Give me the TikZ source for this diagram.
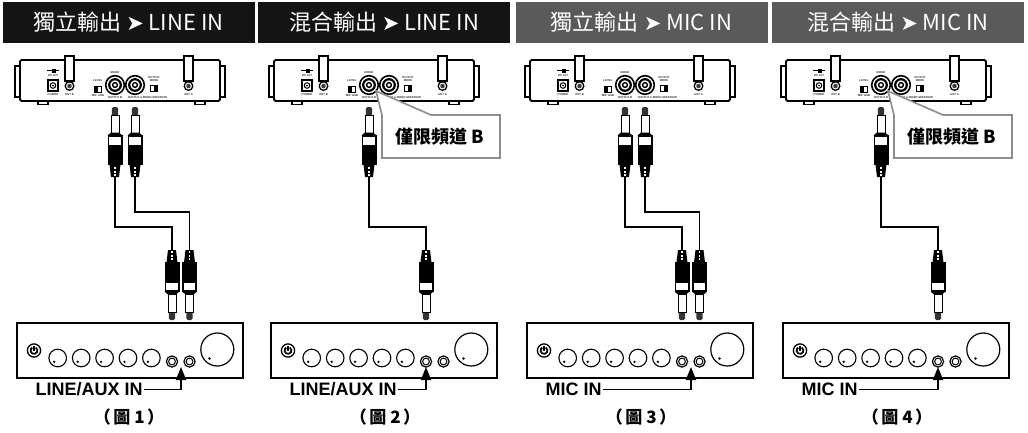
\documentclass[tikz,border=0pt]{standalone}
\usepackage{fontspec}
\setmainfont{Liberation Sans}
\newfontfamily\cjk{Noto Sans CJK TC}
\newfontfamily\dv{DejaVu Sans}
\usetikzlibrary{arrows.meta,calc}
\definecolor{hdark}{HTML}{141414}
\definecolor{hgray}{HTML}{5A5A5A}
\definecolor{callgray}{HTML}{8E8E8E}
\definecolor{tipc}{HTML}{333333}
\newcommand{\hdarrow}{{\dv\fontsize{21}{21}\selectfont ➤}}
\newcommand{\figlabel}[1]{（\hspace{2.5pt}圖\hspace{4pt}#1\hspace{2.5pt}）}
\tikzset{
  hdr/.style={inner sep=0pt, minimum width=252pt, minimum height=41pt, text=white,
    font=\cjk\fontsize{22}{24}\selectfont},
  lbl/.style={font=\bfseries\fontsize{18}{20}\selectfont, inner sep=1.5pt, anchor=west},
  figcap/.style={font=\cjk\bfseries\fontsize{17}{19}\selectfont, inner sep=0pt},
  cable/.style={line width=1.8pt},
  calltext/.style={font=\cjk\bfseries\fontsize{18}{20}\selectfont, inner sep=0pt},
  tinytxt/.style={font=\bfseries\fontsize{2.8}{3}\selectfont, inner sep=0pt, text=black!80},
  pointer/.style={line width=1.8pt, -{Triangle[length=13pt,width=10pt]}},
  calloutbox/.style={draw=callgray, line width=1.6pt, fill=white, line join=miter},
  plug/.pic={
    \fill[tipc, rounded corners=1.5pt] (-3.2,0) rectangle (3.2,9);
    \draw[fill=white, line width=0.9pt] (-4,8) rectangle (4,26);
    \fill (-4,25.5) -- (4,25.5) -- (7.5,28.5) -- (-7.5,28.5) -- cycle;
    \fill (-7.5,28) rectangle (7.5,58);
    \fill[white] (-5.8,29.8) rectangle (5.8,37.5);
    \fill (-5.5,57.5) -- (5.5,57.5) -- (4,70) -- (-4,70) -- cycle;
    \fill[white] (-0.9,60) rectangle (0.9,62);
    \fill[white] (-0.9,63.5) rectangle (0.9,65.5);
    \fill[white] (-0.9,67) rectangle (0.9,69);
  },
  receiver/.pic={
    \draw[line width=1.3pt, fill=white] (-100,66) rectangle (-95,97);
    \draw[line width=1.3pt, fill=white] (105,66) rectangle (110,97);
    \draw[line width=1.1pt, fill=white] (-77,100) rectangle (-67,104.5);
    \draw[line width=1.1pt, fill=white] (80,100) rectangle (90,104.5);
    \draw[line width=1.8pt, fill=white, rounded corners=1.5pt] (-95,60) rectangle (105,101);
    \draw[line width=1.2pt, fill=white] (-50,56) rectangle (-41,81);
    \draw[line width=1.2pt, fill=white] (69,56) rectangle (78,81);
    \draw[line width=1.3pt, fill=white] (-45.5,86) circle (4.3);
    \fill[black!75] (-45.5,86) circle (2.3);
    \draw[line width=1.3pt, fill=white] (73.5,86) circle (4.3);
    \fill[black!75] (73.5,86) circle (2.3);
    \draw[line width=0.8pt] (-68,70.5) -- (-56,70.5);
    \fill (-63.5,68.5) rectangle (-59.5,72.5);
    \node[tinytxt] (-dc) at (-62,75.5) {DC 12V};
    \draw[line width=1.3pt] (-67,80) rectangle (-57,91);
    \draw[line width=1pt] (-62,85.5) circle (2.8);
    \fill (-62,85.5) circle (1);
    \node[tinytxt] (-pw) at (-62,95) {POWER};
    \node[tinytxt] (-antb) at (-45.5,95) {ANT B};
    \node[tinytxt] (-anta) at (73.5,95) {ANT A};
    \node[tinytxt] (-lev) at (-17,80.5) {LEVEL};
    \draw[line width=0.9pt] (-21,86) rectangle (-14,92);
    \fill (-21,86) rectangle (-17.5,92);
    \node[tinytxt] (-ml) at (-17,96) {MIC LINE};
    \foreach \jx in {0,20} {
      \draw[line width=1.6pt, fill=white] (\jx,85) circle (9.3);
      \draw[line width=2.2pt] (\jx,85) circle (5.8);
      \draw[line width=1.4pt] (\jx,85) circle (2.4);
    }
    \node[tinytxt] (-mx) at (0,73) {MIXED};
    \node[tinytxt] (-ob) at (0,97.5) {OUTPUT B};
    \node[tinytxt] (-oa) at (20,97.5) {OUTPUT A};
    \node[tinytxt, align=center] (-om) at (39,79) {OUTPUT\\MODE};
    \draw[line width=0.9pt] (35,85) rectangle (42,91);
    \fill (38.5,85) rectangle (42,91);
    \node[tinytxt] (-ms) at (40,97.5) {MIXED SEPARATE};
  },
  mixer/.pic={
    \draw[line width=1.3pt] (0,323) rectangle (226,378);
    \draw[line width=1.3pt] (17,350.5) circle (6.6);
    \draw[line width=1.7pt] ($(17,350.5)+(-60:3.4)$) arc[start angle=-60, end angle=240, radius=3.4];
    \draw[line width=1.7pt] (17,345.8) -- (17,350.8);
    \foreach \kx in {40.7,64.2,87.6,111,134.4} {
      \draw[line width=1.1pt] (\kx,358) circle (8.8);
      \fill (\kx-3.5,361.8) circle (1.3);
    }
    \foreach \jx in {155,172.5} {
      \draw[line width=1.2pt] (\jx,361.5) circle (5.6);
      \draw[line width=1pt] (\jx,361.5) circle (3.4);
    }
    \draw[line width=1.2pt] (200.3,349.5) circle (16.5);
    \fill (192.5,358.5) circle (1.4);
  },
}
\begin{document}
\begin{tikzpicture}[x=1pt, y=-1pt]
\useasboundingbox (0,0) rectangle (1028,432);
% headers
\node[hdr, fill=hdark] (h1) at (128.5,22.5) {獨立輸出 \hdarrow{} LINE IN};
\node[hdr, fill=hdark] (h2) at (384,22.5) {混合輸出 \hdarrow{} LINE IN};
\node[hdr, fill=hgray] (h3) at (641.5,22.5) {獨立輸出 \hdarrow{} MIC IN};
\node[hdr, fill=hgray] (h4) at (898,22.5) {混合輸出 \hdarrow{} MIC IN};

% ---------- panel 1 ----------
\pic (rx1) at (115,0) {receiver};
\pic (mx1) at (17,0) {mixer};
\pic at (115,107) {plug};
\pic at (135,107) {plug};
\pic[yscale=-1] at (172,320) {plug};
\pic[yscale=-1] at (189.5,320) {plug};
\coordinate (c1a) at (115,177);
\coordinate (c1b) at (135,177);
\coordinate (d1a) at (172,250);
\coordinate (d1b) at (189.5,250);
\coordinate (k1a) at (0,227);
\coordinate (k1b) at (0,212);
\draw[cable] (c1a) -- (c1a |- k1a) -| (d1a);
\draw[cable] (c1b) -- (c1b |- k1b) -| (d1b);
\node[lbl] (l1) at (34,389.5) {LINE/AUX IN};
\coordinate (a1) at (181,367);
\draw[pointer] (l1.east) -| (a1);
\node[figcap] (f1) at (129,417) {\figlabel{1}};

% ---------- panel 2 ----------
\pic (rx2) at (369,0) {receiver};
\pic (mx2) at (271,0) {mixer};
\pic at (369,107) {plug};
\pic[yscale=-1] at (426,320) {plug};
\coordinate (c2a) at (369,177);
\coordinate (d2a) at (426,250);
\coordinate (k2a) at (0,227);
\draw[cable] (c2a) -- (c2a |- k2a) -| (d2a);
\draw[calloutbox] (382,115) -- (376,91) -- (431,115) -- (500,115) -- (500,158) -- (382,158) -- cycle;
\node[calltext] (cb2) at (440,137) {僅限頻道 B};
\node[lbl] (l2) at (288,389.5) {LINE/AUX IN};
\coordinate (a2) at (426,367);
\draw[pointer] (l2.east) -| (a2);
\node[figcap] (f2) at (385,417) {\figlabel{2}};

% ---------- panel 3 ----------
\pic (rx3) at (625,0) {receiver};
\pic (mx3) at (527,0) {mixer};
\pic at (625,107) {plug};
\pic at (645,107) {plug};
\pic[yscale=-1] at (682,320) {plug};
\pic[yscale=-1] at (699.5,320) {plug};
\coordinate (c3a) at (625,177);
\coordinate (c3b) at (645,177);
\coordinate (d3a) at (682,250);
\coordinate (d3b) at (699.5,250);
\coordinate (k3a) at (0,227);
\coordinate (k3b) at (0,212);
\draw[cable] (c3a) -- (c3a |- k3a) -| (d3a);
\draw[cable] (c3b) -- (c3b |- k3b) -| (d3b);
\node[lbl] (l3) at (544,389.5) {MIC IN};
\coordinate (a3) at (691,367);
\draw[pointer] (l3.east) -| (a3);
\node[figcap] (f3) at (641,417) {\figlabel{3}};

% ---------- panel 4 ----------
\pic (rx4) at (881,0) {receiver};
\pic (mx4) at (783,0) {mixer};
\pic at (881,107) {plug};
\pic[yscale=-1] at (938,320) {plug};
\coordinate (c4a) at (881,177);
\coordinate (d4a) at (938,250);
\coordinate (k4a) at (0,227);
\draw[cable] (c4a) -- (c4a |- k4a) -| (d4a);
\draw[calloutbox] (894,115) -- (888,91) -- (943,115) -- (1012,115) -- (1012,158) -- (894,158) -- cycle;
\node[calltext] (cb4) at (952,137) {僅限頻道 B};
\node[lbl] (l4) at (800,389.5) {MIC IN};
\coordinate (a4) at (938,367);
\draw[pointer] (l4.east) -| (a4);
\node[figcap] (f4) at (897,417) {\figlabel{4}};
\end{tikzpicture}
\end{document}
